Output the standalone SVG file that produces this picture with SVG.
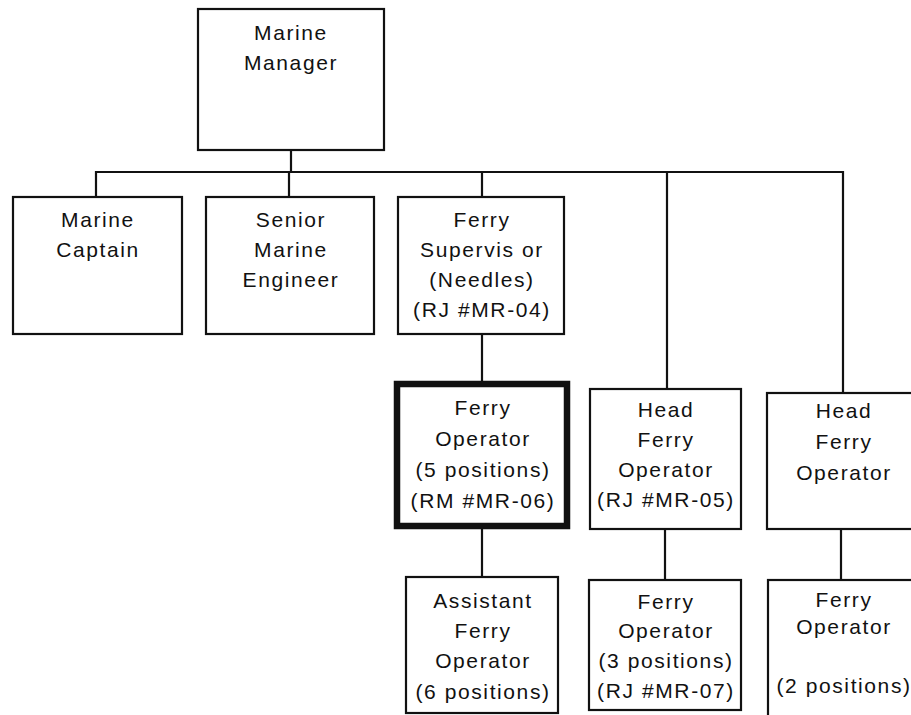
<svg xmlns="http://www.w3.org/2000/svg" width="911" height="715" viewBox="0 0 911 715">
<style>
.box{fill:#fff;stroke:#111;stroke-width:2.2}
.thick{fill:#fff;stroke:#111;stroke-width:6.5}
.ln{fill:none;stroke:#111;stroke-width:2.2}
text{font-family:"Liberation Sans",Arial,sans-serif;font-size:21px;letter-spacing:1.6px;fill:#111;text-anchor:middle}
</style>
<rect width="911" height="715" fill="#fff"/>
<g id="connectors">
<path class="ln" d="M291,150 V172 M96,197 V172 H843 V393 M289,172 V197 M482,172 V197 M667,172 V389 M482,334 V381 M482,529 V577 M665,529 V580 M841,529 V580"/>
</g>
<g id="marine-manager">
<rect class="box" x="198" y="9" width="186" height="141"/>
<text x="291" y="40">Marine</text>
<text x="291" y="70">Manager</text>
</g>
<g id="marine-captain">
<rect class="box" x="13" y="197" width="169" height="137"/>
<text x="98" y="227">Marine</text>
<text x="98" y="257">Captain</text>
</g>
<g id="senior-marine-engineer">
<rect class="box" x="206" y="197" width="168" height="137"/>
<text x="291" y="227">Senior</text>
<text x="291" y="257">Marine</text>
<text x="291" y="287">Engineer</text>
</g>
<g id="ferry-supervisor">
<rect class="box" x="398" y="197" width="166" height="137"/>
<text x="482" y="227">Ferry</text>
<text x="482" y="257">Supervis or</text>
<text x="482" y="287">(Needles)</text>
<text x="482" y="317">(RJ #MR-04)</text>
</g>
<g id="ferry-operator">
<rect class="thick" x="397" y="384" width="170" height="142"/>
<text x="483" y="415">Ferry</text>
<text x="483" y="446">Operator</text>
<text x="483" y="477">(5 positions)</text>
<text x="483" y="508">(RM #MR-06)</text>
</g>
<g id="head-ferry-operator-1">
<rect class="box" x="590" y="389" width="151" height="140"/>
<text x="666" y="417">Head</text>
<text x="666" y="447">Ferry</text>
<text x="666" y="477">Operator</text>
<text x="666" y="507">(RJ #MR-05)</text>
</g>
<g id="head-ferry-operator-2">
<rect class="box" x="767" y="393" width="170" height="136"/>
<text x="844" y="418">Head</text>
<text x="844" y="449">Ferry</text>
<text x="844" y="480">Operator</text>
</g>
<g id="assistant-ferry-operator">
<rect class="box" x="406" y="577" width="152" height="136"/>
<text x="483" y="608">Assistant</text>
<text x="483" y="638">Ferry</text>
<text x="483" y="668">Operator</text>
<text x="483" y="699">(6 positions)</text>
</g>
<g id="ferry-operator-3">
<rect class="box" x="589" y="580" width="152" height="130"/>
<text x="666" y="609">Ferry</text>
<text x="666" y="638">Operator</text>
<text x="666" y="668">(3 positions)</text>
<text x="666" y="698">(RJ #MR-07)</text>
</g>
<g id="ferry-operator-2">
<rect class="box" x="768" y="580" width="170" height="150"/>
<text x="844" y="607">Ferry</text>
<text x="844" y="634">Operator</text>
<text x="844" y="693">(2 positions)</text>
</g>
</svg>
